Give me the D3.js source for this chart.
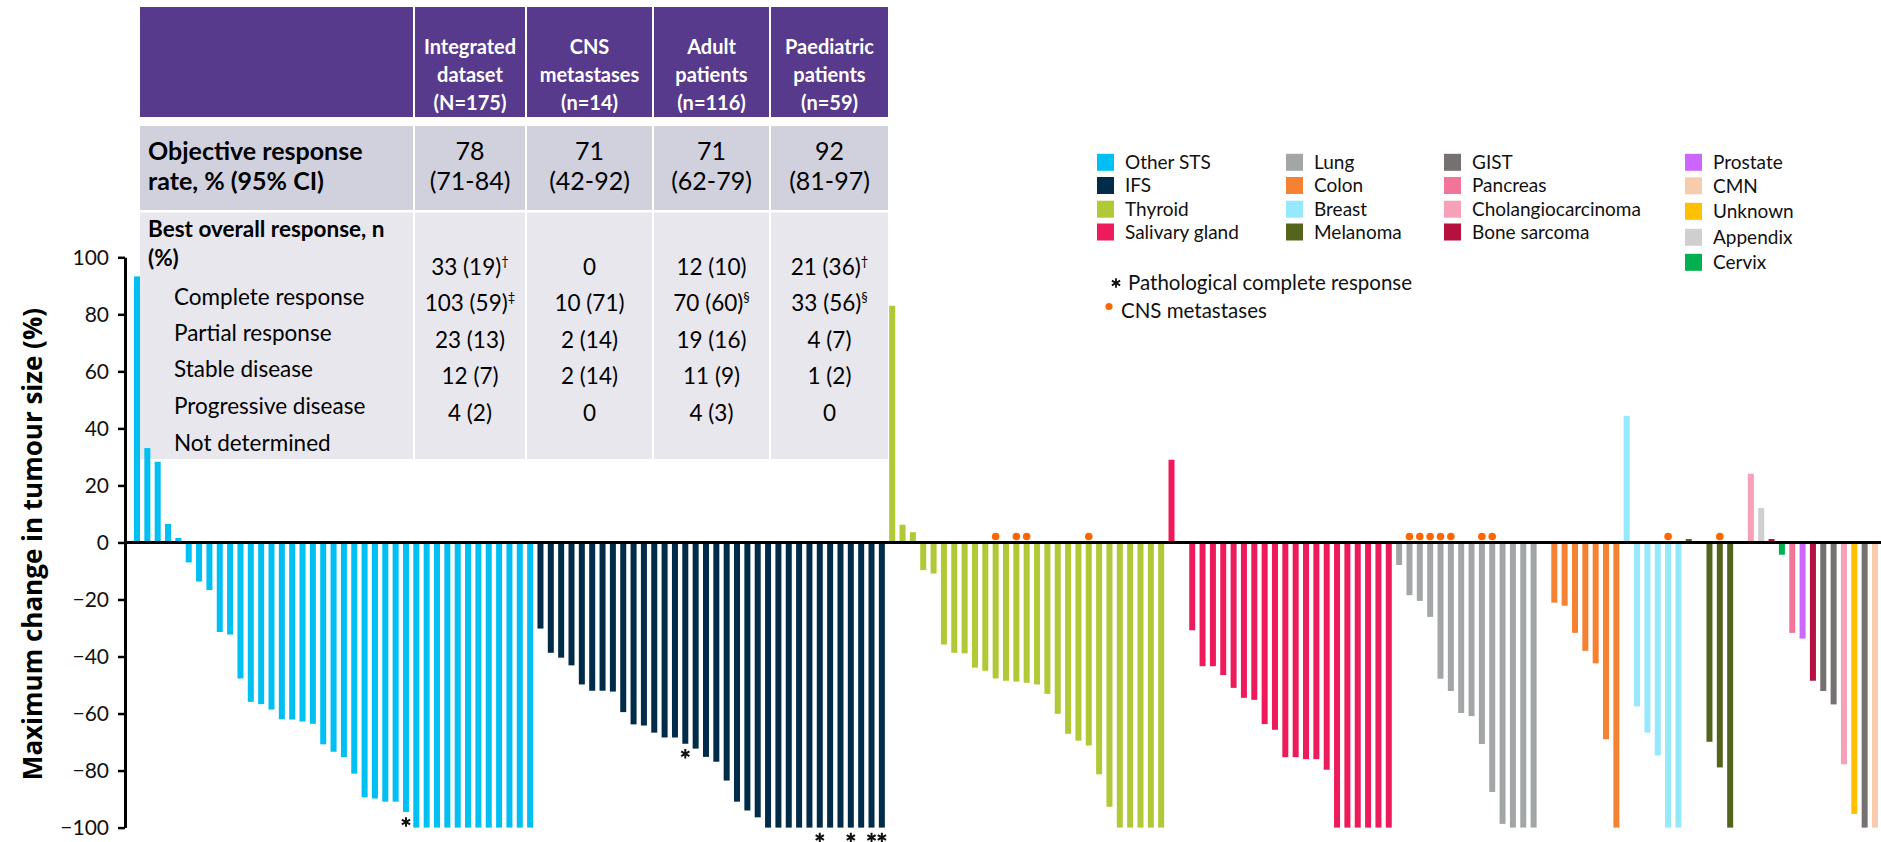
<!DOCTYPE html>
<html>
<head>
<meta charset="utf-8">
<script src="https://cdn.jsdelivr.net/npm/d3@7"></script>
<style>
  html, body { margin: 0; padding: 0; background: #ffffff; }
  svg { display: block; }
</style>
</head>
<body>
<svg id="chart" width="1881" height="842"></svg>
<script>
// ---- Waterfall data: maximum change in tumour size (%) per patient, by tumour type ----
// null = empty slot (no bar drawn)
const otherSTS = [93.3, 33.1, 28.3, 6.5, 1.6, -7.0, -13.7, -16.7, -31.4, -32.3, -47.7, -55.9, -56.7,
  -58.6, -62.0, -62.1, -62.8, -63.6, -70.8, -73.4, -75.3, -81.1, -89.4, -89.8, -90.9, -90.9, -94.5,
  -100, -100, -100, -100, -100, -100, -100, -100, -100, -100, -100, -100];
const ifs = [-30.2, -38.7, -40.4, -43.1, -49.8, -52.0, -52.0, -52.3, -59.5, -63.8, -64.2, -66.7,
  -68.4, -68.4, -70.6, -72.3, -75.2, -76.9, -83.5, -90.9, -94.0, -96.4,
  -100, -100, -100, -100, -100, -100, -100, -100, -100, -100, -100, -100];
const thyroid = [83.0, 6.2, 3.6, -9.7, -10.9, -35.8, -38.7, -38.9, -43.9, -45.0, -47.7, -48.5,
  -48.8, -49.2, -49.8, -53.1, -60.1, -67.1, -69.5, -71.2, -81.3, -92.7, -100, -100, -100, -100, -100];
const salivaryGland = [29.0, null, -30.8, -43.4, -43.4, -46.5, -51.0, -54.5, -55.2, -63.7, -65.7,
  -75.3, -75.3, -76.0, -76.0, -79.7, -100, -100, -100, -100, -100, -100];
const lung = [-7.9, -18.5, -20.5, -26.1, -47.8, -52.1, -59.8, -60.9, -70.7, -87.5, -98.7, -100, -100, -100, null];
const colon = [-21.1, -22.2, -31.7, -38.0, -42.4, -69.0, -100];
const breast = [44.4, -57.5, -66.7, -74.7, -100, -100];
const melanoma = [1.2, null, -69.9, -78.9, -100, null];
const otherTypes = ["Cholangiocarcinoma", "Appendix", "Bone sarcoma", "Cervix", "Pancreas", "Prostate",
  "Bone sarcoma", "GIST", "GIST", "Cholangiocarcinoma", "Unknown", "GIST", "CMN"];
const otherValues = [24.1, 12.1, 1.2, -4.3, -31.7, -33.7, -48.5, -52.1, -56.8, -77.8, -95.2, -100, -100];

// Patients (slot positions) with CNS metastases and with pathological complete response
const cnsSlots = [83, 85, 86, 92, 123, 124, 125, 126, 127, 130, 131, 148, 153];
const pcrSlots = [26, 53, 66, 69, 71, 72];

// Legend (in column order)
const legendColumns = [
  ["Other STS", "IFS", "Thyroid", "Salivary gland"],
  ["Lung", "Colon", "Breast", "Melanoma"],
  ["GIST", "Pancreas", "Cholangiocarcinoma", "Bone sarcoma"],
  ["Prostate", "CMN", "Unknown", "Appendix", "Cervix"]
];
const typeColors = {
  "Other STS": "#00bff3", "IFS": "#002c4a", "Thyroid": "#b1c936", "Salivary gland": "#ee1b5c",
  "Lung": "#a3a6a7", "Colon": "#f58233", "Breast": "#96e8fc", "Melanoma": "#55641d",
  "GIST": "#767171", "Pancreas": "#f37499", "Cholangiocarcinoma": "#f6a1b8", "Bone sarcoma": "#b5103f",
  "Prostate": "#cc66ff", "CMN": "#f8cbad", "Unknown": "#ffc000", "Appendix": "#d0cece", "Cervix": "#00b050"
};

// Y axis ticks
const yTicks = [-100, -80, -60, -40, -20, 0, 20, 40, 60, 80, 100];
const yTitle = "Maximum change in tumour size (%)";

// ---- Summary table ----
const tableHeaders = [
  ["Integrated", "dataset", "(N=175)"],
  ["CNS", "metastases", "(n=14)"],
  ["Adult", "patients", "(n=116)"],
  ["Paediatric", "patients", "(n=59)"]
];
const orrLabel = ["Objective response", "rate, % (95% CI)"];
const orrRates = ["78", "71", "71", "92"];
const orrCIs = ["(71-84)", "(42-92)", "(62-79)", "(81-97)"];
const borTitle = ["Best overall response, n", "(%)"];
const responseLabels = ["Complete response", "Partial response", "Stable disease", "Progressive disease", "Not determined"];
const responseCounts = [
  ["33 (19)", "103 (59)", "23 (13)", "12 (7)", "4 (2)"],
  ["0", "10 (71)", "2 (14)", "2 (14)", "0"],
  ["12 (10)", "70 (60)", "19 (16)", "11 (9)", "4 (3)"],
  ["21 (36)", "33 (56)", "4 (7)", "1 (2)", "0"]
];
const responseNotes = [
  ["†", "‡", "", "", ""],
  ["", "", "", "", ""],
  ["", "§", "", "", ""],
  ["†", "§", "", "", ""]
];
const noteLabels = ["Pathological complete response", "CNS metastases"];

// ---- Build bar list ----
const groups = [
  ["Other STS", otherSTS], ["IFS", ifs], ["Thyroid", thyroid], ["Salivary gland", salivaryGland],
  ["Lung", lung], ["Colon", colon], ["Breast", breast], ["Melanoma", melanoma]
];
const slots = [];
groups.forEach(([type, vals]) => vals.forEach(v => slots.push({ type, value: v })));
otherTypes.forEach((t, i) => slots.push({ type: t, value: otherValues[i] }));
slots.forEach((d, i) => { d.slot = i; });

const FONT = "Lato, 'Open Sans', 'Liberation Sans', sans-serif";
const svg = d3.select("#chart");

const x = d3.scaleBand()
  .domain(slots.map(d => d.slot))
  .range([134, 1878])
  .paddingInner(0.42)
  .paddingOuter(0);
const y = d3.scaleLinear().domain([-100, 100]).range([827.6, 257.3]);

// ---- Table (drawn first so the bars sit on top of it) ----
const cols = [[140, 413], [415, 525], [527, 652], [654, 769], [771, 888]];
const table = svg.append("g");
const rowBands = [
  { y0: 7, y1: 117, fill: "#583a8c" },
  { y0: 126, y1: 210, fill: "#d1d0dd" },
  { y0: 212.5, y1: 459, fill: "#e8e7ee" }
];
rowBands.forEach(r => {
  table.append("g").selectAll("rect")
    .data(cols)
    .join("rect")
    .attr("x", c => c[0]).attr("width", c => c[1] - c[0])
    .attr("y", r.y0).attr("height", r.y1 - r.y0)
    .attr("fill", r.fill);
});
const colCenter = i => (cols[i + 1][0] + cols[i + 1][1]) / 2;

// header
tableHeaders.forEach((lines, i) => {
  lines.forEach((ln, j) => {
    table.append("text")
      .attr("x", colCenter(i)).attr("y", 54 + j * 28)
      .attr("text-anchor", "middle")
      .style("font-family", FONT).style("font-weight", 700).style("font-size", "20px")
      .attr("fill", "#ffffff")
      .text(ln);
  });
});

// objective response rate
orrLabel.forEach((ln, j) => {
  table.append("text")
    .attr("x", 148).attr("y", 160 + j * 30)
    .style("font-family", FONT).style("font-weight", 700).style("font-size", "25px")
    .attr("fill", "#000").text(ln);
});
orrRates.forEach((v, i) => {
  [v, orrCIs[i]].forEach((t, j) => {
    table.append("text")
      .attr("x", colCenter(i)).attr("y", 160 + j * 30)
      .attr("text-anchor", "middle")
      .style("font-family", FONT).style("font-size", "25px")
      .attr("fill", "#000").text(t);
  });
});

// best overall response
borTitle.forEach((ln, j) => {
  table.append("text")
    .attr("x", 148).attr("y", 237 + j * 29)
    .style("font-family", FONT).style("font-weight", 700).style("font-size", "22.5px")
    .attr("fill", "#000").text(ln);
});
const labelBase = [304.5, 341, 377, 413.6, 450.5];
const valueBase = [274.6, 311, 348, 384, 420.5];
responseLabels.forEach((ln, j) => {
  table.append("text")
    .attr("x", 174).attr("y", labelBase[j])
    .style("font-family", FONT).style("font-size", "22.5px")
    .attr("fill", "#000").text(ln);
});
responseCounts.forEach((colVals, i) => {
  colVals.forEach((v, j) => {
    const t = table.append("text")
      .attr("x", colCenter(i)).attr("y", valueBase[j])
      .attr("text-anchor", "middle")
      .style("font-family", FONT).style("font-size", "22.5px")
      .attr("fill", "#000");
    t.append("tspan").text(v);
    const note = responseNotes[i][j];
    if (note) {
      t.append("tspan").attr("dy", -9).style("font-size", "13px").text(note);
    }
  });
});

// ---- Bars ----
svg.append("g").selectAll("rect")
  .data(slots.filter(d => d.value !== null))
  .join("rect")
  .attr("x", d => x(d.slot))
  .attr("width", x.bandwidth())
  .attr("y", d => y(Math.max(0, d.value)))
  .attr("height", d => Math.abs(y(d.value) - y(0)))
  .attr("fill", d => typeColors[d.type]);

// Zero line
svg.append("line")
  .attr("x1", 125).attr("x2", 1881)
  .attr("y1", y(0)).attr("y2", y(0))
  .attr("stroke", "#000").attr("stroke-width", 3);

// CNS metastases markers
svg.append("g").selectAll("circle")
  .data(cnsSlots)
  .join("circle")
  .attr("cx", s => x(s) + x.bandwidth() / 2)
  .attr("cy", y(0) - 6)
  .attr("r", 3.8)
  .attr("fill", "#ff6600");

// Pathological complete response markers (six-armed asterisk)
const asteriskType = d3.symbolAsterisk || {
  draw(ctx, size) {
    const r = Math.sqrt(size) * 0.59436, t = r / 2, u = t * Math.sqrt(3);
    ctx.moveTo(0, r); ctx.lineTo(0, -r);
    ctx.moveTo(-u, -t); ctx.lineTo(u, t);
    ctx.moveTo(-u, t); ctx.lineTo(u, -t);
  }
};
const asterisk = d3.symbol().type(asteriskType).size(64);
svg.append("g").selectAll("path")
  .data(pcrSlots)
  .join("path")
  .attr("d", asterisk)
  .attr("transform", s => `translate(${x(s) + x.bandwidth() / 2},${y(slots[s].value) + 10})`)
  .attr("fill", "none").attr("stroke", "#111").attr("stroke-width", 2);

// Y axis
const yAxis = svg.append("g")
  .attr("transform", "translate(125,0)")
  .call(d3.axisLeft(y).tickValues(yTicks).tickSize(7).tickSizeOuter(0).tickPadding(9));
yAxis.select(".domain").attr("stroke", "#000").attr("stroke-width", 3);
yAxis.selectAll(".tick line").attr("stroke", "#000").attr("stroke-width", 2.5);
yAxis.selectAll(".tick text")
  .attr("fill", "#111")
  .style("font-family", FONT)
  .style("font-size", "21px");

svg.append("text")
  .attr("transform", "translate(42,544) rotate(-90)")
  .attr("text-anchor", "middle")
  .style("font-family", "'Open Sans', 'Noto Sans', sans-serif")
  .style("font-weight", 700)
  .style("font-size", "26px")
  .attr("fill", "#000")
  .text(yTitle);

// ---- Legend ----
const legendX = [1097, 1286, 1444, 1685];
const legendRows = [
  [162.3, 185.5, 209.2, 232],
  [162.3, 185.5, 209.2, 232],
  [162.3, 185.5, 209.2, 232],
  [162.3, 185.8, 211.3, 237.3, 262.3]
];
const legend = svg.append("g");
legendColumns.forEach((names, ci) => {
  const g = legend.append("g");
  g.selectAll("rect")
    .data(names)
    .join("rect")
    .attr("x", legendX[ci])
    .attr("y", (d, k) => legendRows[ci][k] - 8.5)
    .attr("width", 17).attr("height", 17)
    .attr("fill", d => typeColors[d]);
  g.selectAll("text")
    .data(names)
    .join("text")
    .attr("x", legendX[ci] + 28)
    .attr("y", (d, k) => legendRows[ci][k] + 6.8)
    .style("font-family", FONT).style("font-size", "19px")
    .attr("fill", "#111")
    .text(d => d);
});

// marker notes
legend.append("path")
  .attr("d", asterisk)
  .attr("transform", "translate(1116,283)")
  .attr("fill", "none").attr("stroke", "#111").attr("stroke-width", 1.8);
legend.append("text")
  .attr("x", 1128).attr("y", 290)
  .style("font-family", FONT).style("font-size", "20.5px")
  .attr("fill", "#111").text(noteLabels[0]);
legend.append("circle")
  .attr("cx", 1109).attr("cy", 306.5).attr("r", 3.6)
  .attr("fill", "#ff6600");
legend.append("text")
  .attr("x", 1121).attr("y", 318)
  .style("font-family", FONT).style("font-size", "20.5px")
  .attr("fill", "#111").text(noteLabels[1]);
</script>
</body>
</html>
